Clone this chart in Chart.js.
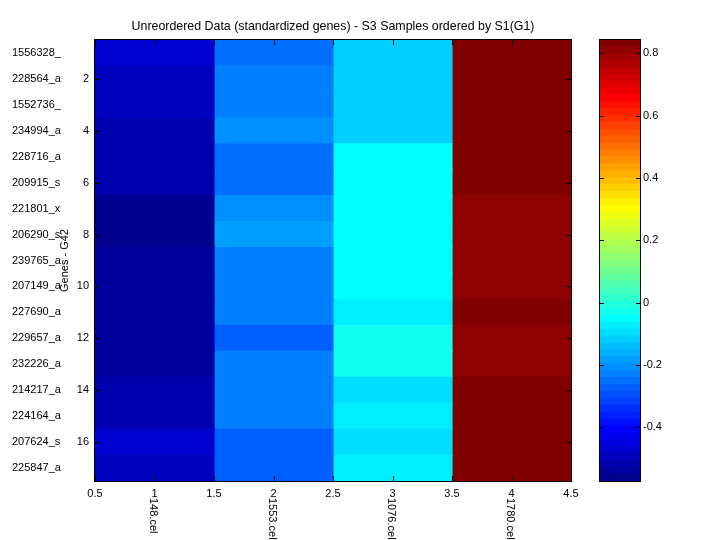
<!DOCTYPE html>
<html>
<head>
<meta charset="utf-8">
<script src="https://cdn.jsdelivr.net/npm/chart.js@4"></script>
<style>
body { margin: 0; background: #fff; }
#wrap { position: relative; width: 720px; height: 540px; }
#wrap canvas { position: absolute; left: 0; top: 0; }
</style>
</head>
<body>
<div id="wrap">
<canvas id="heatChart" width="720" height="540"></canvas>
<canvas id="barChart" width="720" height="540"></canvas>
</div>
<script>
const TITLE = 'Unreordered Data (standardized genes) - S3 Samples ordered by S1(G1)';
const Y_TITLE = 'Genes - G42';
const GENES = ['1556328_', '228564_a', '1552736_', '234994_a', '228716_a', '209915_s',
    '221801_x', '206290_s', '239765_a', '207149_a', '227690_a', '229657_a',
    '232226_a', '214217_a', '224164_a', '207624_s', '225847_a'];
const SAMPLES = ['148.cel', '1553.cel', '1076.cel', '1780.cel'];
const SAMPLE_POS = [1, 2, 3, 4];
const X_TICKS = [0.5, 1, 1.5, 2, 2.5, 3, 3.5, 4, 4.5];
const Y_TICKS = [2, 4, 6, 8, 10, 12, 14, 16];
const CB_TICKS = [-0.4, -0.2, 0, 0.2, 0.4, 0.6, 0.8];

// standardized values, one array per sample (rows = genes, top to bottom)
const S148 = [-0.472, -0.494, -0.497, -0.515, -0.518, -0.516, -0.572, -0.561, -0.541,
    -0.538, -0.543, -0.539, -0.536, -0.514, -0.519, -0.470, -0.495];
const S1553 = [-0.252, -0.229, -0.231, -0.207, -0.249, -0.254, -0.205, -0.186, -0.228,
    -0.231, -0.226, -0.273, -0.230, -0.227, -0.232, -0.271, -0.275];
const S1076 = [-0.118, -0.121, -0.117, -0.115, -0.052, -0.050, -0.055, -0.049, -0.053,
    -0.051, -0.074, -0.031, -0.028, -0.096, -0.076, -0.097, -0.073];
const S1780 = [0.843, 0.832, 0.828, 0.835, 0.830, 0.826, 0.809, 0.812, 0.806,
    0.810, 0.829, 0.808, 0.813, 0.831, 0.825, 0.834, 0.827];
const SERIES = [S148, S1553, S1076, S1780];

const ALL = SERIES.flat();
const C_MIN = Math.min(...ALL);
const C_MAX = Math.max(...ALL);
const LEVELS = 64;

// matlab jet(64)
function jetU(j) {
    if (j < 1 || j > 47) return 0;
    if (j <= 16) return j / 16;
    if (j <= 31) return 1;
    return (48 - j) / 16;
}
function jet(k) {
    const r = Math.round(jetU(k - 24) * 255);
    const g = Math.round(jetU(k - 8) * 255);
    const b = Math.round(jetU(k + 8) * 255);
    return 'rgb(' + r + ',' + g + ',' + b + ')';
}
function colorOf(v) {
    let k = Math.floor((v - C_MIN) / (C_MAX - C_MIN) * LEVELS) + 1;
    k = Math.min(LEVELS, Math.max(1, k));
    return jet(k);
}

const FAMILY = '"Liberation Sans", Arial, Helvetica, sans-serif';
Chart.defaults.font.family = FAMILY;
Chart.defaults.font.size = 11;
Chart.defaults.color = '#000';

function line(ctx, x1, y1, x2, y2) {
    ctx.beginPath();
    ctx.moveTo(x1, y1);
    ctx.lineTo(x2, y2);
    ctx.stroke();
}

const heatDecor = {
    id: 'heatDecor',
    afterDraw(chart) {
        const {ctx, chartArea: a, scales} = chart;
        ctx.save();
        ctx.strokeStyle = '#000';
        ctx.lineWidth = 1;
        ctx.strokeRect(a.left - 0.5, a.top - 0.5, a.right - a.left + 1, a.bottom - a.top + 1);
        X_TICKS.forEach(v => {
            const px = Math.round(scales.x.getPixelForValue(v)) + 0.5;
            line(ctx, px, a.bottom, px, a.bottom - 5);
            line(ctx, px, a.top, px, a.top + 5);
        });
        Y_TICKS.forEach(n => {
            const py = Math.round(scales.y.getPixelForValue(n - 1)) + 0.5;
            line(ctx, a.left, py, a.left + 5, py);
            line(ctx, a.right, py, a.right - 5, py);
        });
        ctx.fillStyle = '#000';
        ctx.textAlign = 'center';
        ctx.textBaseline = 'middle';
        ctx.font = '12.4px ' + FAMILY;
        ctx.fillText(TITLE, (a.left + a.right) / 2, 27);
        ctx.font = '11px ' + FAMILY;
        ctx.save();
        ctx.translate(64.5, (a.top + a.bottom) / 2);
        ctx.rotate(-Math.PI / 2);
        ctx.fillText(Y_TITLE, 0, 0);
        ctx.restore();
        SAMPLE_POS.forEach((p, i) => {
            ctx.save();
            ctx.translate(scales.x.getPixelForValue(p) - 1, 498);
            ctx.rotate(Math.PI / 2);
            ctx.textAlign = 'left';
            ctx.textBaseline = 'middle';
            ctx.fillText(SAMPLES[i], 0, 0);
            ctx.restore();
        });
        ctx.restore();
    }
};

new Chart(document.getElementById('heatChart'), {
    type: 'bar',
    data: {
        labels: GENES,
        datasets: SERIES.map((vals, c) => ({
            label: SAMPLES[c],
            data: vals.map(() => [SAMPLE_POS[c] - 0.5, SAMPLE_POS[c] + 0.5]),
            backgroundColor: vals.map(colorOf),
            borderWidth: 0,
            inflateAmount: 0.6,
            grouped: false,
            barPercentage: 1,
            categoryPercentage: 1
        }))
    },
    options: {
        indexAxis: 'y',
        responsive: false,
        animation: false,
        layout: {padding: {left: 12, top: 40, right: 149, bottom: 0}},
        plugins: {legend: {display: false}, tooltip: {enabled: false}},
        scales: {
            x: {
                type: 'linear',
                position: 'bottom',
                min: 0.5,
                max: 4.5,
                grid: {display: false, drawTicks: false},
                border: {display: false},
                afterBuildTicks: s => { s.ticks = X_TICKS.map(v => ({value: v})); },
                ticks: {padding: 6, maxRotation: 0, autoSkip: false, callback: v => String(v)},
                afterFit: s => { s.height = 59; }
            },
            y: {
                type: 'category',
                position: 'left',
                weight: 0,
                offset: true,
                grid: {display: false, drawTicks: false},
                border: {display: false},
                ticks: {
                    autoSkip: false,
                    padding: 6,
                    callback: (v, i) => Y_TICKS.includes(i + 1) ? String(i + 1) : ''
                },
                afterFit: s => { s.width = 25; }
            },
            y2: {
                type: 'category',
                position: 'left',
                weight: 1,
                labels: GENES,
                offset: true,
                grid: {display: false, drawTicks: false},
                border: {display: false},
                ticks: {autoSkip: false, crossAlign: 'far', padding: 0},
                afterFit: s => { s.width = 58; }
            }
        }
    },
    plugins: [heatDecor]
});

// colour bar
const cbDecor = {
    id: 'cbDecor',
    afterDraw(chart) {
        const {ctx, chartArea: a, scales} = chart;
        ctx.save();
        ctx.strokeStyle = '#000';
        ctx.lineWidth = 1;
        ctx.strokeRect(a.left - 0.5, a.top - 0.5, a.right - a.left + 1, a.bottom - a.top + 1);
        CB_TICKS.forEach(v => {
            const py = Math.round(scales.y.getPixelForValue(v)) + 0.5;
            line(ctx, a.left, py, a.left + 4, py);
            line(ctx, a.right, py, a.right - 4, py);
        });
        ctx.restore();
    }
};

const edge = i => C_MIN + (C_MAX - C_MIN) * i / LEVELS;

new Chart(document.getElementById('barChart'), {
    type: 'bar',
    data: {
        labels: ['cb'],
        datasets: Array.from({length: LEVELS}, (_, i) => ({
            data: [[edge(i), edge(i + 1)]],
            backgroundColor: jet(i + 1),
            borderWidth: 0,
            inflateAmount: 0.6,
            grouped: false,
            barPercentage: 1,
            categoryPercentage: 1
        }))
    },
    options: {
        responsive: false,
        animation: false,
        layout: {padding: {left: 600, top: 40, right: 40, bottom: 59}},
        plugins: {legend: {display: false}, tooltip: {enabled: false}},
        scales: {
            x: {type: 'category', display: false, offset: true},
            y: {
                type: 'linear',
                position: 'right',
                min: C_MIN,
                max: C_MAX,
                grid: {display: false, drawTicks: false},
                border: {display: false},
                afterBuildTicks: s => { s.ticks = CB_TICKS.map(v => ({value: v})); },
                ticks: {padding: 3, callback: v => String(v)},
                afterFit: s => { s.width = 40; }
            }
        }
    },
    plugins: [cbDecor]
});
</script>
</body>
</html>
